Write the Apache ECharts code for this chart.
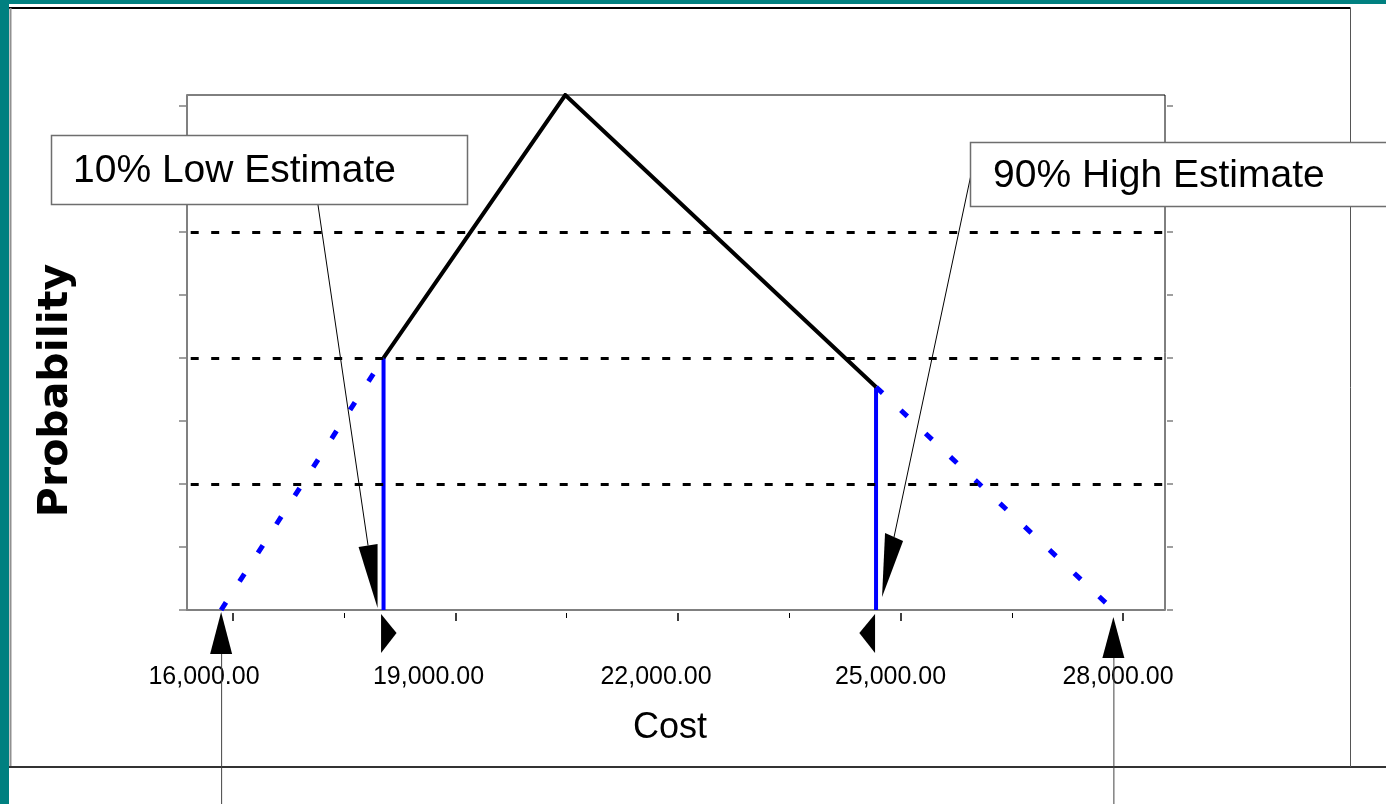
<!DOCTYPE html>
<html>
<head>
<meta charset="utf-8">
<script src="https://cdn.jsdelivr.net/npm/echarts@6/dist/echarts.min.js"></script>
<style>
html,body{margin:0;padding:0;background:#ffffff;}
#chart{width:1386px;height:804px;}
</style>
</head>
<body>
<div id="chart"></div>
<script>
// ---------------- data ----------------
const xTickValues = [16000, 19000, 22000, 25000, 28000];
const xTickLabels = ['16,000.00', '19,000.00', '22,000.00', '25,000.00', '28,000.00'];
const xMinorTickValues = [17500, 20500, 23500, 26500];
const yTickValues = [0, 0.5, 1, 1.5, 2, 2.5, 3, 3.5, 4];
const gridLineValues = [1, 2, 3];

// triangular cost distribution
const lowTailX = [15840, 18030];
const lowTailY = [0, 2.0];
const bodyX = [18030, 20480, 24670];
const bodyY = [2.0, 4.087, 1.77];
const highTailX = [24670, 27870];
const highTailY = [1.77, 0];
const lowEstimateX = [18030, 18030];
const lowEstimateY = [0, 2.0];
const highEstimateX = [24670, 24670];
const highEstimateY = [0, 1.77];

const annotationTexts = ['10% Low Estimate', '90% High Estimate'];
const xAxisTitle = 'Cost';
const yAxisTitle = 'Probability';

// ---------------- styles / layout ----------------
const X_MIN = 15380, X_MAX = 28566, Y_MIN = 0, Y_MAX = 4.087;
const labelShiftPx = [-29, -27, -22, -10, -5];
const AXIS_GRAY = '#808080';
const BLUE = '#0000ff';
const FONT = 'Liberation Sans, Arial, sans-serif';

const zip = (xs, ys) => xs.map((x, i) => [x, ys[i]]);

const rich = {};
labelShiftPx.forEach((s, i) => {
  rich['s' + i] = { padding: [0, -2 * s, 0, 0], fontSize: 25, lineHeight: 25, fontFamily: FONT, color: '#000' };
});

const chart = echarts.init(document.getElementById('chart'), null, { renderer: 'canvas' });

const baseX = { type: 'value', min: X_MIN, max: X_MAX, gridIndex: 0, position: 'bottom', splitLine: { show: false } };
const baseY = { type: 'value', min: Y_MIN, max: Y_MAX, gridIndex: 0, splitLine: { show: false } };

const option = {
  animation: false,
  backgroundColor: '#ffffff',
  grid: { left: 187, top: 95, right: 221, bottom: 194, show: true, borderColor: '#000', borderWidth: 1, backgroundColor: 'transparent' },
  xAxis: [
    Object.assign({}, baseX, {
      axisLine: { show: true, onZero: false, lineStyle: { color: AXIS_GRAY, width: 2 } },
      axisTick: { show: false }, axisLabel: { show: false },
      name: xAxisTitle, nameLocation: 'middle', nameGap: 100,
      nameTextStyle: { fontFamily: FONT, fontSize: 36, color: '#000', padding: [0, 12, 0, 0] }
    }),
    Object.assign({}, baseX, {
      offset: 3,
      axisLine: { show: false, onZero: false },
      axisTick: { show: true, customValues: xTickValues, length: 8, lineStyle: { color: '#000', width: 1.5 } },
      axisLabel: {
        show: true, customValues: xTickValues, margin: 52,
        fontFamily: FONT, fontSize: 25, color: '#000',
        formatter: (v) => { const i = xTickValues.indexOf(v); return '{s' + i + '|' + xTickLabels[i] + '}'; },
        rich: rich
      }
    }),
    Object.assign({}, baseX, {
      offset: 3,
      axisLine: { show: false, onZero: false },
      axisTick: { show: true, customValues: xMinorTickValues, length: 5, lineStyle: { color: '#000', width: 1 } },
      axisLabel: { show: false, customValues: xMinorTickValues }
    })
  ],
  yAxis: [
    Object.assign({}, baseY, {
      position: 'left',
      axisLine: { show: true, onZero: false, lineStyle: { color: AXIS_GRAY, width: 2 } },
      axisTick: { show: true, customValues: yTickValues, length: 8, lineStyle: { color: AXIS_GRAY, width: 1.5 } },
      axisLabel: { show: false, customValues: yTickValues },
      name: yAxisTitle, nameLocation: 'middle', nameRotate: 90, nameGap: 110,
      nameTextStyle: { fontFamily: 'DejaVu Sans, sans-serif', fontWeight: 'bold', fontSize: 41, color: '#000', padding: [0, 76, 0, 0] }
    }),
    Object.assign({}, baseY, {
      position: 'right', offset: 2,
      axisLine: { show: false, onZero: false },
      axisTick: { show: true, customValues: yTickValues, length: 6, lineStyle: { color: AXIS_GRAY, width: 1.5 } },
      axisLabel: { show: false, customValues: yTickValues }
    })
  ],
  series: [
    {
      name: 'grid', type: 'line', data: [], xAxisIndex: 0, yAxisIndex: 0,
      markLine: {
        silent: true, symbol: ['none', 'none'], label: { show: false },
        lineStyle: { color: '#000', width: 3, type: [8, 12.5], dashOffset: 16.8 },
        data: gridLineValues.map(v => ({ yAxis: v }))
      }
    },
    {
      name: 'low tail', type: 'line', showSymbol: false, data: zip(lowTailX, lowTailY),
      lineStyle: { color: BLUE, width: 5, type: [9, 25], cap: 'butt' }, z: 3
    },
    {
      name: 'high tail', type: 'line', showSymbol: false, data: zip(highTailX, highTailY),
      lineStyle: { color: BLUE, width: 5, type: [9, 25], cap: 'butt' }, z: 3
    },
    {
      name: 'low estimate', type: 'line', showSymbol: false, data: zip(lowEstimateX, lowEstimateY),
      lineStyle: { color: BLUE, width: 4 }, z: 4
    },
    {
      name: 'high estimate', type: 'line', showSymbol: false, data: zip(highEstimateX, highEstimateY),
      lineStyle: { color: BLUE, width: 4 }, z: 4
    },
    {
      name: 'distribution', type: 'line', showSymbol: false, data: zip(bodyX, bodyY),
      lineStyle: { color: '#000', width: 4, join: 'miter' }, z: 5
    }
  ]
};
chart.setOption(option);

// ------------- annotations positioned through the chart's scales -------------
const P = (x, y) => chart.convertToPixel({ xAxisIndex: 0, yAxisIndex: 0 }, [x, y]);
const lowB = P(lowEstimateX[0], 0);
const highB = P(highEstimateX[0], 0);
const startB = P(lowTailX[0], 0);
const endB = P(highTailX[highTailX.length - 1], 0);

const lowTip = [lowB[0] - 6, lowB[1] - 2];
const lowHead = [lowTip, [lowTip[0] - 19, lowTip[1] - 61], [lowTip[0], lowTip[1] - 64]];
const highTip = [highB[0] + 6, highB[1] - 13];
const highHead = [highTip, [highTip[0] + 3, highTip[1] - 64], [highTip[0] + 21, highTip[1] - 56]];

const startTip = [startB[0], startB[1] + 2];
const endTip = [endB[0], endB[1] + 7];

const poly = (pts, z) => ({ type: 'polygon', z: z || 50, shape: { points: pts }, style: { fill: '#000' } });
const line = (x1, y1, x2, y2, color, w, z) => ({ type: 'line', z: z || 50, shape: { x1, y1, x2, y2 }, style: { stroke: color, lineWidth: w } });

const graphics = [
  // page background strips and outer frame
  { type: 'rect', z: -10, shape: { x: 0, y: 0, width: 9, height: 804 }, style: { fill: '#008080' } },
  { type: 'rect', z: -10, shape: { x: 0, y: 0, width: 1386, height: 4 }, style: { fill: '#008080' } },
  line(9, 8, 1350.5, 8, '#000', 2, -5),
  line(10.5, 8, 10.5, 767, '#909090', 2, -5),
  line(9, 767, 1386, 767, '#333', 2, -5),
  line(1350.5, 8, 1350.5, 767, '#555', 1, -5),

  // bottom arrows to 16,000 and 28,000
  poly([startTip, [startTip[0] - 11, startTip[1] + 42], [startTip[0] + 11, startTip[1] + 42]]),
  line(startTip[0] + 0.5, startTip[1] + 42, startTip[0] + 0.5, 804, '#444', 1),
  poly([endTip, [endTip[0] - 11, endTip[1] + 41], [endTip[0] + 11, endTip[1] + 41]]),
  line(endTip[0] + 0.5, endTip[1] + 41, endTip[0] + 0.5, 804, '#444', 1),

  // small markers under the estimate lines
  poly([[lowB[0] - 2.5, lowB[1] + 4], [lowB[0] - 2.5, lowB[1] + 43], [lowB[0] + 13, lowB[1] + 23]]),
  poly([[highB[0] - 1, highB[1] + 4], [highB[0] - 1, highB[1] + 43], [highB[0] - 16.7, highB[1] + 23]]),

  // leader lines + heads
  line(318, 205, (lowHead[1][0] + lowHead[2][0]) / 2, (lowHead[1][1] + lowHead[2][1]) / 2, '#000', 1, 40),
  poly(lowHead),
  line(972, 170, (highHead[1][0] + highHead[2][0]) / 2, (highHead[1][1] + highHead[2][1]) / 2, '#000', 1, 40),
  poly(highHead),

  // annotation boxes
  { type: 'rect', z: 100, shape: { x: 51.5, y: 135.5, width: 416, height: 69 }, style: { fill: '#fff', stroke: '#6e6e6e', lineWidth: 1.5 } },
  { type: 'text', z: 101, style: { text: annotationTexts[0], x: 73, y: 171, verticalAlign: 'middle', align: 'left', fontFamily: FONT, fontSize: 39, fill: '#000' } },
  { type: 'rect', z: 100, shape: { x: 970.5, y: 142.5, width: 430, height: 64 }, style: { fill: '#fff', stroke: '#6e6e6e', lineWidth: 1.5 } },
  { type: 'text', z: 101, style: { text: annotationTexts[1], x: 993, y: 176, verticalAlign: 'middle', align: 'left', fontFamily: FONT, fontSize: 39, fill: '#000' } }
];
chart.setOption({ graphic: { elements: graphics } });
</script>
</body>
</html>
